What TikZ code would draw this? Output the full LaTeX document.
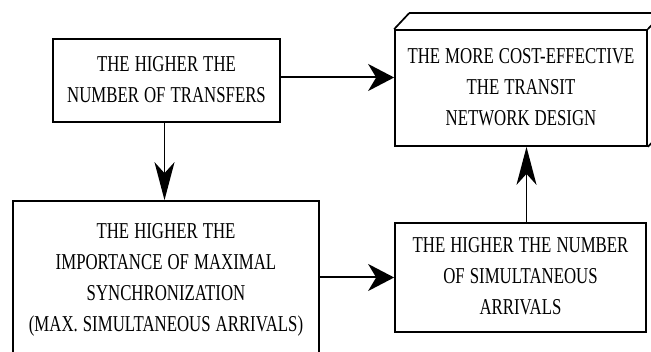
\documentclass[tikz,border=0pt]{standalone}
\usepackage{fontspec}
\setmainfont{Liberation Serif}
\usepackage{graphicx}
\usepackage{tikz}
\usetikzlibrary{positioning, arrows.meta, calc}
\tikzset{
    factor/.style={draw, line width=1.7pt, inner sep=0pt, align=center},
    harrow/.style={-{Stealth[length=26pt, width=27pt, inset=8pt]}, line width=2pt},
    varrow/.style={-{Stealth[length=38pt, width=20pt, inset=11pt]}, line width=1.8pt}
}
% stretched caps text, as in the scanned figure
\newcommand{\tallcaps}[1]{\scalebox{1}[1.35]{\fontsize{16.8}{23}\selectfont\spaceskip=0.3em\begin{tabular}{@{}c@{}}#1\end{tabular}}}

\begin{document}
\begin{tikzpicture}[x=1pt, y=1pt]
        \useasboundingbox (0,0) rectangle (651,351);
        \clip (0,0) rectangle (651,351);

        % Define the four boxes
        \node[factor, minimum width=227pt, minimum height=83pt] (transfers) at (166.5,270.5)
            {\tallcaps{THE HIGHER THE\\NUMBER OF TRANSFERS}};
        \node[factor, minimum width=252pt, minimum height=116pt] (cost) at (521,263)
            {\tallcaps{THE MORE COST-EFFECTIVE\\THE TRANSIT\\NETWORK DESIGN}};
        \node[factor, minimum width=306pt, minimum height=155pt] (sync) at (166,72.5)
            {\tallcaps{THE HIGHER THE\\IMPORTANCE OF MAXIMAL\\SYNCHRONIZATION\\(MAX. SIMULTANEOUS ARRIVALS)}};
        \node[factor, minimum width=251pt, minimum height=109pt] (arrivals) at (520.5,73.5)
            {\tallcaps{THE HIGHER THE NUMBER\\OF SIMULTANEOUS\\ARRIVALS}};

        % Depth of the result box
        \path (cost.north west) ++(15,16) coordinate (backNW);
        \path (cost.north east) ++(15,16) coordinate (backNE);
        \path (cost.south east) ++(15,16) coordinate (backSE);
        \draw[line width=1.7pt] (cost.north west) -- (backNW);
        \draw[line width=2.6pt] (backNW) -- (backNE);
        \draw[line width=1.7pt] (cost.north east) -- (backNE) -- (backSE) -- (cost.south east);

        % Draw the arrows
        \draw[harrow] ([yshift=3pt]transfers.east) -- ([yshift=3pt]transfers.east -| cost.west);
        \draw[varrow] ([xshift=-2pt]transfers.south) -- ([xshift=-2pt]transfers.south |- sync.north);
        \draw[harrow] (sync.east |- arrivals.west) -- (arrivals.west);
        \draw[varrow] ([xshift=6pt]arrivals.north) -- ([xshift=6pt]arrivals.north |- cost.south);
    \end{tikzpicture}
\end{document}
